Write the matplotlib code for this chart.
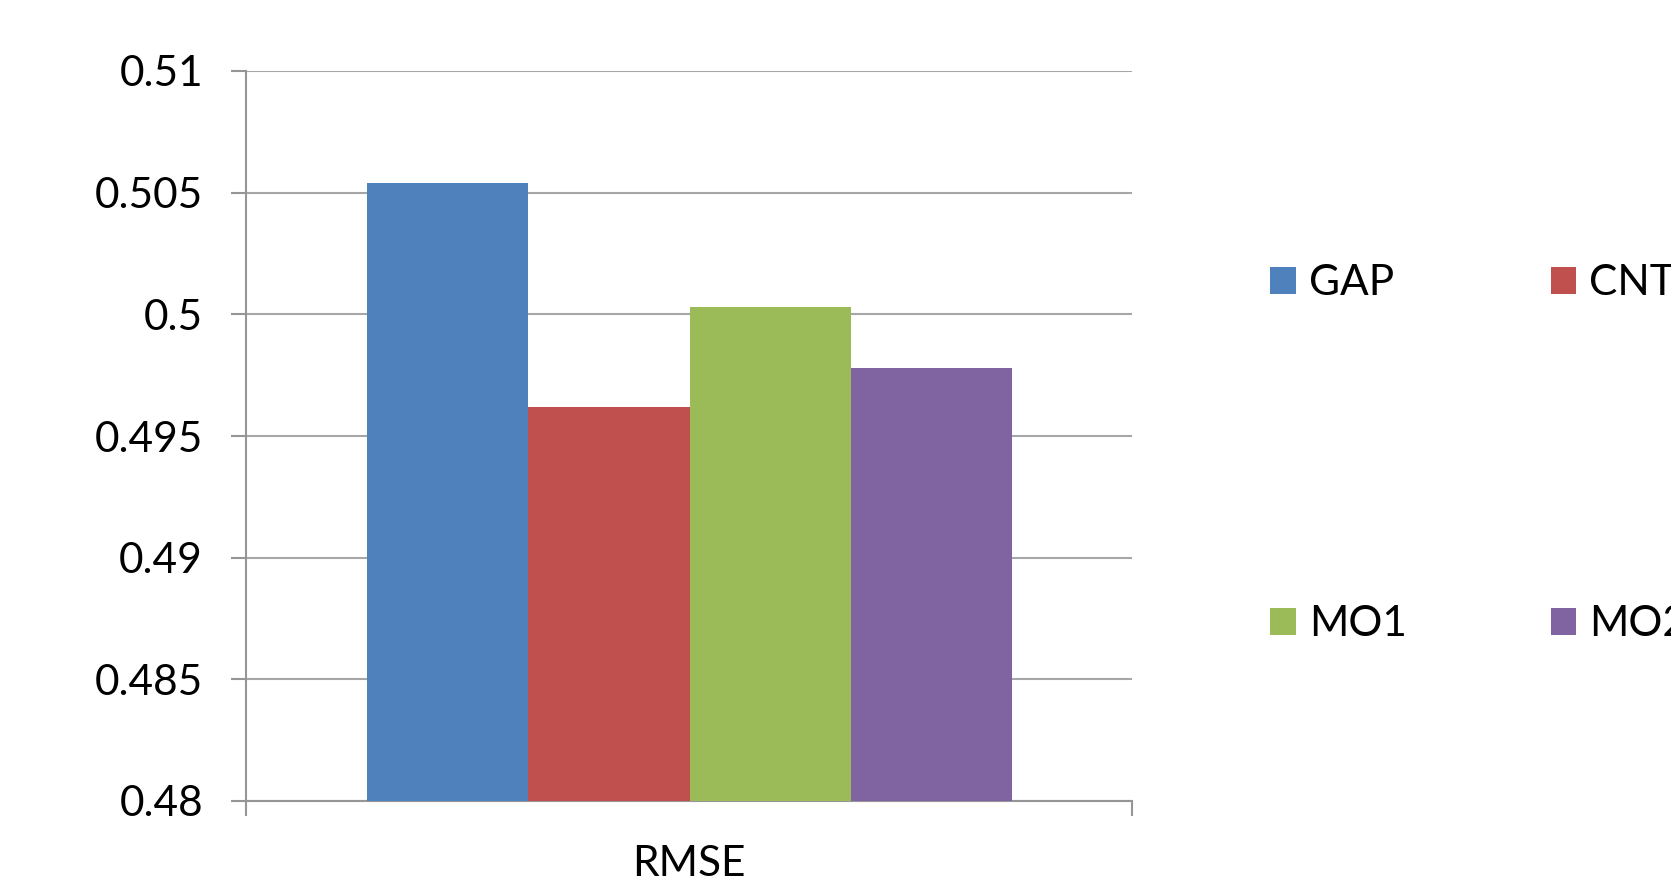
import matplotlib
matplotlib.use("Agg")
import matplotlib.pyplot as plt
from matplotlib.patches import Patch

# data
series = ['GAP', 'CNT', 'MO1', 'MO2']
rmse = [0.5054, 0.4962, 0.5003, 0.4978]
colors = ['#4f81bd', '#c0504d', '#9bbb59', '#8064a2']
category = 'RMSE'
yticks = [0.48, 0.485, 0.49, 0.495, 0.5, 0.505, 0.51]
ytick_labels = ['0.48', '0.485', '0.49', '0.495', '0.5', '0.505', '0.51']

plt.rcParams['font.family'] = ['Lato', 'DejaVu Sans']
fs = 30.5

fig = plt.figure(figsize=(16.71, 8.82), dpi=100)
ax = fig.add_axes([246 / 1671, 1 - 801 / 882, (1132 - 246) / 1671, (801 - 71) / 882])

grey = '#969696'
bar_w = 0.1818
start = 0.137
for i, (name, v, c) in enumerate(zip(series, rmse, colors)):
    ax.bar(start + bar_w * (i + 0.5), v - 0.48, bottom=0.48, width=bar_w,
           color=c, label=name, zorder=3)

ax.set_xlim(0, 1)
ax.set_ylim(0.48, 0.51)
ax.set_yticks(yticks)
ax.set_yticklabels(ytick_labels)
ax.yaxis.grid(True, color='#a6a6a6', linewidth=1.5, zorder=0)

ax.set_xticks([0.5])
ax.set_xticklabels([category])
ax.set_xticks([0, 1], minor=True)
ax.tick_params(axis='x', which='major', length=0, pad=32, labelsize=fs)
ax.tick_params(axis='x', which='minor', length=11, width=1.5, color=grey)
ax.tick_params(axis='y', length=11, width=1.5, color=grey, pad=20, labelsize=fs)

for s in ['top', 'right']:
    ax.spines[s].set_visible(False)
for s in ['left', 'bottom']:
    ax.spines[s].set_color(grey)
    ax.spines[s].set_linewidth(1.5)

# legend fills by column, so order handles to read GAP CNT / MO1 MO2 by row
handles = [Patch(facecolor=c, label=n) for n, c in zip(series, colors)]
handles = [handles[0], handles[2], handles[1], handles[3]]
fig.legend(handles=handles, ncol=2, loc='upper left',
           bbox_to_anchor=(1232 / 1671, 1 - 226 / 882), frameon=False,
           fontsize=fs, handlelength=0.61, handleheight=0.61,
           handletextpad=0.3, labelspacing=7.16, columnspacing=3.4)

fig.savefig('out.png', dpi=100)
